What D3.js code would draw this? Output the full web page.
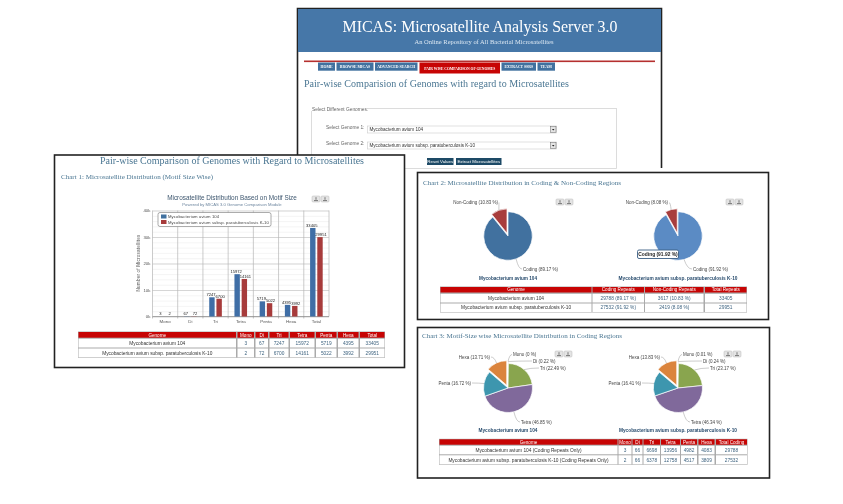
<!DOCTYPE html>
<html>
<head>
<meta charset="utf-8">
<script src="https://cdnjs.cloudflare.com/ajax/libs/d3/7.8.5/d3.min.js"></script>
<style>
  html, body { margin: 0; padding: 0; background: #fff; }
  svg { display: block; filter: blur(0.3px); }
  text { font-family: "Liberation Sans", sans-serif; }
  .serif { font-family: "Liberation Serif", serif; }
  .axis text { font-size: 4.4px; fill: #555; }
  .axis .domain { display: none; }
</style>
</head>
<body>
<svg width="843" height="504"></svg>
<script>
const genomes = ['Mycobacterium avium 104', 'Mycobacterium avium subsp. paratuberculosis K-10'];
const motifs = ['Mono', 'Di', 'Tri', 'Tetra', 'Penta', 'Hexa', 'Total'];
const repeats104 = [3, 67, 7247, 15972, 5719, 4395, 33405];
const repeatsK10 = [2, 72, 6700, 14161, 5022, 3992, 29951];
const yTicks = [0, 10000, 20000, 30000, 40000];

const codingNames = ['Coding', 'Non-Coding'];
const coding104 = [89.17, 10.83];
const codingK10 = [91.92, 8.08];
const codingCounts = [[29788, 3617, 33405], [27532, 2419, 29951]];

const sizeNames = ['Mono', 'Di', 'Tri', 'Tetra', 'Penta', 'Hexa'];
const size104 = [0.01, 0.22, 22.49, 46.85, 16.72, 13.71];
const sizeK10 = [0.01, 0.24, 23.17, 46.34, 16.41, 13.83];
const size104Labels = ['0', '0.22', '22.49', '46.85', '16.72', '13.71'];
const sizeK10Labels = ['0.01', '0.24', '23.17', '46.34', '16.41', '13.83'];
const sizeCounts104 = [3, 66, 6698, 13956, 4982, 4083, 29788];
const sizeCountsK10 = [2, 66, 6378, 12758, 4517, 3809, 27532];

const navItems = ['HOME', 'BROWSE MICAS', 'ADVANCED SEARCH', 'PAIR WISE COMPARISON OF GENOMES', 'EXTRACT SSRS', 'TEAM'];

const blue = '#41719f', darkBlue = '#4677a8', red = '#a83d3c', tableRed = '#c70404';
const headColor = '#4a7692', navy = '#274b6d';

const svg = d3.select('svg');

const label = (g, x, y, str, size, fill, anchor, cls) => g.append('text')
    .attr('class', cls || null)
    .attr('x', x)
    .attr('y', y)
    .attr('font-size', size)
    .attr('fill', fill)
    .attr('text-anchor', anchor || 'start')
    .text(str);

// serif headings: Georgia is not installed so stretch to the width in the picture
const heading = (g, x, y, str, size, fill, width, anchor) => label(g, x, y, str, size, fill, anchor, 'serif')
    .attr('textLength', width)
    .attr('lengthAdjust', 'spacingAndGlyphs');

const panel = (x, y, w, h) => svg.append('rect')
    .attr('x', x).attr('y', y).attr('width', w).attr('height', h)
    .attr('fill', '#fff').attr('stroke', '#222').attr('stroke-width', 1.6);

const exportButtons = (g, x, y) => {
    [0, 9].forEach(dx => {
        g.append('rect')
            .attr('x', x + dx).attr('y', y).attr('width', 8).attr('height', 6).attr('rx', 1)
            .attr('fill', '#e4e4e4').attr('stroke', '#bbb').attr('stroke-width', 0.5);
        g.append('path')
            .attr('d', `M${x + dx + 2},${y + 4.6}h4M${x + dx + 4},${y + 1.2}v2.6`)
            .attr('stroke', '#777').attr('stroke-width', 1);
    });
};

// table drawn from column edges, one inner box per cell
const drawTable = (g, edges, rowYs, header, rows) => {
    const left = edges[0][0], right = edges[edges.length - 1][1];
    g.append('rect')
        .attr('x', left - 0.5).attr('y', rowYs[0][0] - 0.5)
        .attr('width', right - left + 1).attr('height', rowYs[2][1] - rowYs[0][0] + 1)
        .attr('fill', '#aaa');
    header.forEach((h, i) => {
        const [x0, x1] = edges[i];
        g.append('rect')
            .attr('x', x0).attr('y', rowYs[0][0])
            .attr('width', x1 - x0).attr('height', rowYs[0][1] - rowYs[0][0])
            .attr('fill', tableRed);
        label(g, (x0 + x1) / 2, rowYs[0][1] - 1.2, h, 4.6, '#fff', 'middle');
    });
    rows.forEach((row, r) => {
        const [y0, y1] = rowYs[r + 1];
        row.forEach((v, i) => {
            const [x0, x1] = edges[i];
            g.append('rect')
                .attr('x', x0).attr('y', y0)
                .attr('width', x1 - x0).attr('height', y1 - y0)
                .attr('fill', '#fff');
            label(g, (x0 + x1) / 2, (y0 + y1) / 2 + 1.7, v, 4.8, i === 0 ? '#333' : '#3f6480', 'middle');
        });
    });
};

const drawPie = (g, opt) => {
    const pie = d3.pie().sort(null).value(d => d.value);
    const arc = d3.arc().innerRadius(0).outerRadius(opt.r);
    const pieG = g.append('g').attr('transform', `translate(${opt.cx},${opt.cy})`);

    pie(opt.data).forEach(s => {
        const mid = (s.startAngle + s.endAngle) / 2;
        const off = s.data.pull || 0;
        const ox = Math.sin(mid) * off, oy = -Math.cos(mid) * off;

        pieG.append('path')
            .attr('d', arc(s))
            .attr('transform', `translate(${ox},${oy})`)
            .attr('fill', s.data.color)
            .attr('stroke', '#fff')
            .attr('stroke-width', 0.7);

        const ex = ox + Math.sin(mid) * opt.r, ey = oy - Math.cos(mid) * opt.r;
        const [lx, ly, anchor] = s.data.spot;
        const tx = lx + (anchor === 'end' ? 1 : -1), ty = ly - 1.5;
        pieG.append('path')
            .attr('d', `M${ex},${ey}Q${ex + (tx - ex) * 0.4},${ty} ${tx},${ty}`)
            .attr('fill', 'none')
            .attr('stroke', '#999')
            .attr('stroke-width', 0.5);
        label(pieG, lx, ly, s.data.text, 4.5, '#444', anchor);
    });

    label(g, opt.cx, opt.captionY, opt.caption, 5, navy, 'middle')
        .attr('font-weight', 'bold')
        .attr('textLength', opt.captionWidth)
        .attr('lengthAdjust', 'spacingAndGlyphs');
};

/* ---------- top page ---------- */
svg.append('rect').attr('x', 297.5).attr('y', 8.5).attr('width', 364).attr('height', 160).attr('fill', '#fff');
svg.append('path')
    .attr('d', 'M297.5,160V8.5H661.5V168')
    .attr('fill', 'none').attr('stroke', '#222').attr('stroke-width', 1.6);
const page = svg.append('g');
page.append('rect').attr('x', 298).attr('y', 9).attr('width', 363).attr('height', 43).attr('fill', darkBlue);
heading(page, 480, 32, 'MICAS: Microsatellite Analysis Server 3.0', 17.5, '#fff', 275, 'middle');
heading(page, 484, 44, 'An Online Repository of All Bacterial Microsatellites', 6.2, '#dbe7f2', 139, 'middle');

page.append('rect').attr('x', 304).attr('y', 60.5).attr('width', 351).attr('height', 1.6).attr('fill', '#b5302f');

const navEdges = [[318, 335], [336.5, 373.5], [375, 417.5], [419.5, 500], [501.5, 536], [537.5, 555]];
navItems.forEach((n, i) => {
    const [x0, x1] = navEdges[i];
    const active = i === 3;
    page.append('rect')
        .attr('x', x0).attr('y', 62.5)
        .attr('width', x1 - x0).attr('height', active ? 11 : 8.2)
        .attr('fill', active ? tableRed : '#41719f');
    label(page, (x0 + x1) / 2, active ? 69.8 : 68.2, n, active ? 3.7 : 3.8, '#fff', 'middle', 'serif').attr('font-weight', 'bold');
});

heading(page, 304, 87, 'Pair-wise Comparision of Genomes with regard to Microsatellites', 10.5, headColor, 265);

page.append('rect')
    .attr('x', 311.5).attr('y', 108.5).attr('width', 305).attr('height', 60)
    .attr('fill', 'none').attr('stroke', '#d4d4d4').attr('stroke-width', 0.8);
page.append('rect').attr('x', 311).attr('y', 106).attr('width', 57).attr('height', 5).attr('fill', '#fff');
label(page, 312, 110.5, 'Select Different Genomes:', 4.8, '#666');

[[128, 126, 0], [143.5, 142, 1]].forEach(([ty, by, i]) => {
    label(page, 326, ty + 1, `Select Genome ${i + 1}:`, 4.8, '#666');
    page.append('rect')
        .attr('x', 367.5).attr('y', by).attr('width', 189).attr('height', 7)
        .attr('fill', '#fff').attr('stroke', '#ccc').attr('stroke-width', 0.6);
    label(page, 369.5, by + 5.2, genomes[i], 4.6, '#333');
    page.append('rect')
        .attr('x', 550.5).attr('y', by + 0.5).attr('width', 5.5).attr('height', 6)
        .attr('fill', '#e4e4e4').attr('stroke', '#666').attr('stroke-width', 0.5);
    page.append('path')
        .attr('d', `M552,${by + 3}h2.5l-1.25,1.6z`)
        .attr('fill', '#222');
});

[[427, 453.5, 'Reset Values'], [456, 501.5, 'Extract Microsatellites']].forEach(([x0, x1, t]) => {
    page.append('rect').attr('x', x0).attr('y', 158).attr('width', x1 - x0).attr('height', 7).attr('fill', '#1d4a66');
    label(page, (x0 + x1) / 2, 163.2, t, 4.4, '#fff', 'middle');
});

/* ---------- chart 1: bars ---------- */
panel(54.5, 155, 350, 212.5);
const left = svg.append('g');
heading(left, 232, 163.5, 'Pair-wise Comparison of Genomes with Regard to Microsatellites', 10.5, headColor, 264, 'middle');
heading(left, 61, 179, 'Chart 1: Microsatellite Distribution (Motif Size Wise)', 6.6, headColor, 152);

label(left, 232, 200, 'Microsatellite Distribution Based on Motif Size', 6.4, '#3e576f', 'middle');
label(left, 232, 205.5, 'Powered by MICAS 3.0 Genome Comparison Module', 4.2, '#6d869f', 'middle');
exportButtons(left, 312, 196);

const plot = { left: 152.5, right: 329, top: 210.5, bottom: 316.5 };

const xBand = d3.scaleBand().domain(motifs).range([plot.left, plot.right]);
const xSeries = d3.scaleBand().domain([0, 1]).range([xBand.bandwidth() * 0.25, xBand.bandwidth() * 0.75]).paddingInner(0.25);
const y = d3.scaleLinear().domain([0, 40000]).range([plot.bottom, plot.top]);

// light minor grid, then the major lines
left.append('g')
    .attr('transform', `translate(${plot.left},0)`)
    .call(d3.axisLeft(y).tickValues(d3.range(0, 40001, 2000)).tickSize(-(plot.right - plot.left)).tickFormat(''))
    .call(a => a.select('.domain').remove())
    .call(a => a.selectAll('line').attr('stroke', '#ececec').attr('stroke-width', 0.6));

left.append('g')
    .attr('class', 'axis')
    .attr('transform', `translate(${plot.left},0)`)
    .call(d3.axisLeft(y).tickValues(yTicks).tickSize(-(plot.right - plot.left)).tickPadding(2).tickFormat(d => `${d / 1000}k`))
    .call(a => a.selectAll('line').attr('stroke', '#c8c8c8').attr('stroke-width', 0.7));

left.selectAll('.sep').data(motifs.concat('end')).enter().append('line')
    .attr('class', 'sep')
    .attr('x1', (d, i) => plot.left + i * xBand.step())
    .attr('x2', (d, i) => plot.left + i * xBand.step())
    .attr('y1', plot.top)
    .attr('y2', plot.bottom)
    .attr('stroke', '#b4b4b4')
    .attr('stroke-width', 0.7);

left.append('g')
    .attr('class', 'axis')
    .attr('transform', `translate(0,${plot.bottom})`)
    .call(d3.axisBottom(xBand).tickSize(2).tickPadding(1))
    .call(a => a.selectAll('line').attr('stroke', '#888').attr('stroke-width', 0.5).attr('x1', -xBand.step() / 2).attr('x2', -xBand.step() / 2));

left.append('line')
    .attr('x1', plot.left).attr('x2', plot.right).attr('y1', plot.bottom).attr('y2', plot.bottom)
    .attr('stroke', '#888').attr('stroke-width', 0.7);

label(left, 0, 0, 'Number of Microsatellites', 4.6, '#555', 'middle')
    .attr('transform', 'translate(140,263) rotate(-90)')
    .attr('letter-spacing', 0.2);

[[repeats104, '#3f6ea6'], [repeatsK10, '#a73b3b']].forEach(([values, color], s) => {
    const g = left.append('g');
    g.selectAll('rect').data(values).enter().append('rect')
        .attr('x', (d, i) => xBand(motifs[i]) + xSeries(s))
        .attr('y', d => y(d))
        .attr('width', xSeries.bandwidth())
        .attr('height', d => plot.bottom - y(d))
        .attr('fill', color);
    g.selectAll('text').data(values).enter().append('text')
        .attr('x', (d, i) => xBand(motifs[i]) + xSeries(s) + xSeries.bandwidth() / 2 + (s ? 1 : -1))
        .attr('y', d => y(d) - 1.2)
        .attr('text-anchor', 'middle')
        .attr('font-size', 4.1)
        .attr('fill', '#222')
        .text(d => d);
});

left.append('rect')
    .attr('x', 158).attr('y', 212.5).attr('width', 113).attr('height', 14).attr('rx', 2)
    .attr('fill', '#fff').attr('stroke', '#888').attr('stroke-width', 0.7);
[[blue, 0], ['#a73b3b', 1]].forEach(([c, i]) => {
    left.append('rect').attr('x', 161).attr('y', 214.5 + i * 5.5).attr('width', 5.5).attr('height', 4).attr('fill', c);
    label(left, 168, 218.4 + i * 5.5, genomes[i], 4.2, '#444').attr('letter-spacing', 0.1);
});

drawTable(left,
    [[78.5, 236], [237.5, 254], [255.5, 268], [269.5, 288.5], [290, 314.5], [316, 336.5], [338, 358.5], [360, 384.5]],
    [[332, 337.7], [338.7, 347.5], [348.5, 357.3]],
    ['Genome'].concat(motifs),
    [[genomes[0]].concat(repeats104), [genomes[1]].concat(repeatsK10)]);

/* ---------- chart 2: coding pies ---------- */
panel(417.5, 172.5, 351, 147);
const mid = svg.append('g');
heading(mid, 423, 184.5, 'Chart 2: Microsatellite Distribution in Coding & Non-Coding Regions', 6.6, headColor, 198);

const codingData = (vals, color) => vals.map((v, i) => ({
    value: v,
    color: i === 0 ? color : red,
    pull: i === 0 ? 0 : 3,
    text: `${codingNames[i]} (${v} %)`,
    spot: i === 0 ? [15, 34.5, 'start'] : [-10, -32, 'end']
}));

drawPie(mid, { cx: 508, cy: 236, r: 24.3, data: codingData(coding104, '#41719f'), caption: genomes[0], captionWidth: 58, captionY: 279.5 });
drawPie(mid, { cx: 678, cy: 236, r: 24.3, data: codingData(codingK10, '#5b8bc4'), caption: genomes[1], captionWidth: 119, captionY: 279.5 });
exportButtons(mid, 556, 199);
exportButtons(mid, 726, 199);

mid.append('rect')
    .attr('x', 637.5).attr('y', 250).attr('width', 41).attr('height', 8.5).attr('rx', 1.5)
    .attr('fill', '#fff').attr('stroke', '#3a5f85').attr('stroke-width', 0.9);
label(mid, 658, 256, 'Coding (91.92 %)', 4.9, '#222', 'middle').attr('font-weight', 'bold');

drawTable(mid,
    [[440.5, 591.5], [592.5, 644], [645, 703.5], [705, 746.5]],
    [[287, 292.5], [293.8, 302.5], [303.5, 312]],
    ['Genome', 'Coding Repeats', 'Non-Coding Repeats', 'Total Repeats'],
    genomes.map((g, r) => [
        g,
        `${codingCounts[r][0]} (${[coding104, codingK10][r][0]} %)`,
        `${codingCounts[r][1]} (${[coding104, codingK10][r][1]} %)`,
        codingCounts[r][2]
    ]));

/* ---------- chart 3: motif size pies ---------- */
panel(417.5, 327.5, 352, 150.5);
const low = svg.append('g');
heading(low, 422, 337.5, 'Chart 3: Motif-Size wise Microsatellite Distribution in Coding Regions', 6.6, headColor, 200);

const sizeColors = ['#4572a7', '#aa4643', '#89a54e', '#80699b', '#3d96ae', '#db843d'];
const sizePull = [2, 2, 0, 0, 0, 3];
const sizeSpots = [[5, -32, 'start'], [25, -25.5, 'start'], [32, -18.5, 'start'], [13, 35.5, 'start'], [-37, -3.5, 'end'], [-18, -29.5, 'end']];
const sizeData = (vals, text) => vals.map((v, i) => ({
    value: v,
    color: sizeColors[i],
    pull: sizePull[i],
    text: `${sizeNames[i]} (${text[i]} %)`,
    spot: sizeSpots[i]
}));

drawPie(low, { cx: 508, cy: 388, r: 24.5, data: sizeData(size104, size104Labels), caption: genomes[0], captionWidth: 59, captionY: 432 });
drawPie(low, { cx: 678, cy: 388, r: 24.5, data: sizeData(sizeK10, sizeK10Labels), caption: genomes[1], captionWidth: 118, captionY: 432 });
exportButtons(low, 555, 351);
exportButtons(low, 724, 351);

drawTable(low,
    [[439.5, 617.5], [618.5, 631.5], [632.5, 642.5], [643.5, 660], [661, 680], [681, 697], [698.5, 714.5], [716, 747]],
    [[439.3, 444.7], [445.7, 454.3], [455.3, 464.3]],
    ['Genome'].concat(sizeNames, 'Total Coding'),
    [
        [genomes[0] + ' (Coding Repeats Only)'].concat(sizeCounts104),
        [genomes[1] + ' (Coding Repeats Only)'].concat(sizeCountsK10)
    ]);
</script>
</body>
</html>
